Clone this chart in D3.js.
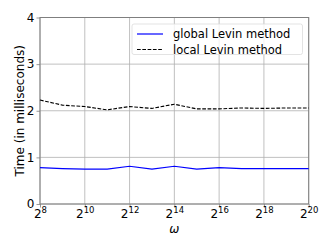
<!DOCTYPE html>
<html>
<head>
<meta charset="utf-8">
<script src="https://cdn.jsdelivr.net/npm/d3@7"></script>
<style>
  body { margin: 0; background: #fff; }
  text { font-family: "DejaVu Sans", sans-serif; }
</style>
</head>
<body>
<div id="chart"></div>
<script>
const exponents = [8, 9, 10, 11, 12, 13, 14, 15, 16, 17, 18, 19, 20];
const globalTimes = [0.78, 0.76, 0.75, 0.75, 0.81, 0.75, 0.81, 0.75, 0.78, 0.76, 0.76, 0.76, 0.76];
const localTimes = [2.23, 2.12, 2.09, 2.02, 2.09, 2.05, 2.14, 2.04, 2.04, 2.06, 2.05, 2.06, 2.06];
const xTicks = [8, 10, 12, 14, 16, 18, 20];
const yTicks = [0, 1, 2, 3, 4];
const seriesNames = ['global Levin method', 'local Levin method'];

const width = 332, height = 249;
const margin = {left: 40, right: 23.3, top: 17.5, bottom: 45};
const gridColor = '#b0b0b0';
const spineColor = '#7f7f7f';
const blue = '#0000ff';
const dash = '3.7,1.6';

const svg = d3.select('#chart').append('svg')
  .attr('width', width)
  .attr('height', height);

const x = d3.scaleLinear().domain([8, 20]).range([margin.left, width - margin.right]);
const y = d3.scaleLinear().domain([0, 4]).range([height - margin.bottom, margin.top]);

// grid
svg.append('g').selectAll('line').data(xTicks).join('line')
  .attr('x1', d => x(d)).attr('x2', d => x(d))
  .attr('y1', y(0)).attr('y2', y(4))
  .attr('stroke', gridColor).attr('stroke-width', 0.8);
svg.append('g').selectAll('line').data(yTicks).join('line')
  .attr('x1', x(8)).attr('x2', x(20))
  .attr('y1', d => y(d)).attr('y2', d => y(d))
  .attr('stroke', gridColor).attr('stroke-width', 0.8);

// axes
const xAxis = svg.append('g')
  .attr('transform', `translate(0,${y(0)})`)
  .call(d3.axisBottom(x).tickValues(xTicks).tickSize(3.5).tickFormat(''));
const yAxis = svg.append('g')
  .attr('transform', `translate(${x(8)},0)`)
  .call(d3.axisLeft(y).tickValues(yTicks).tickSize(3.5).tickFormat(d3.format('d')));

[xAxis, yAxis].forEach(a => {
  a.select('.domain').remove();
  a.selectAll('line').attr('stroke', spineColor).attr('stroke-width', 0.8);
});
yAxis.selectAll('text')
  .attr('font-size', 12)
  .attr('fill', '#000')
  .attr('x', -5.5);

// x tick labels as 2^n
const xl = xAxis.selectAll('.tick').append('text')
  .attr('y', 13.5)
  .attr('fill', '#000')
  .attr('text-anchor', 'middle')
  .attr('font-size', 12);
xl.append('tspan').text('2');
xl.append('tspan').attr('font-size', 8.5).attr('dy', -5).text(d => d);

// spines
svg.append('rect')
  .attr('x', x(8)).attr('y', y(4))
  .attr('width', x(20) - x(8)).attr('height', y(0) - y(4))
  .attr('fill', 'none').attr('stroke', spineColor).attr('stroke-width', 1);

// lines
const line = d3.line().x((d, i) => x(exponents[i])).y(d => y(d));
svg.append('path').datum(globalTimes)
  .attr('d', line).attr('fill', 'none')
  .attr('stroke', blue).attr('stroke-width', 1.2);
svg.append('path').datum(localTimes)
  .attr('d', line).attr('fill', 'none')
  .attr('stroke', '#000').attr('stroke-width', 1.1).attr('stroke-dasharray', dash);

// labels
svg.append('text')
  .attr('x', (x(8) + x(20)) / 2).attr('y', 233)
  .attr('text-anchor', 'middle').attr('font-size', 12)
  .attr('font-style', 'italic')
  .text('ω');
svg.append('text')
  .attr('transform', `translate(24,${(y(0) + y(4)) / 2}) rotate(-90)`)
  .attr('text-anchor', 'middle').attr('font-size', 12)
  .text('Time (in milliseconds)');

// legend
const legend = svg.append('g');
legend.append('rect')
  .attr('x', 132).attr('y', 24).attr('width', 170.5).attr('height', 30.5)
  .attr('rx', 2).attr('fill', '#fff').attr('fill-opacity', 0.8)
  .attr('stroke', '#dcdcdc').attr('stroke-width', 0.8);
const styles = [{color: blue, dash: 'none'}, {color: '#000000', dash: dash}];
seriesNames.forEach((name, i) => {
  const cy = 34 + i * 15.5;
  legend.append('path')
    .attr('d', `M137,${cy}H163`)
    .attr('fill', 'none')
    .style('stroke', styles[i].color)
    .style('stroke-width', 1.2)
    .style('stroke-dasharray', styles[i].dash);
  legend.append('text')
    .attr('x', 173).attr('y', cy + 4)
    .attr('font-size', 11.5).text(name);
});
</script>
</body>
</html>
